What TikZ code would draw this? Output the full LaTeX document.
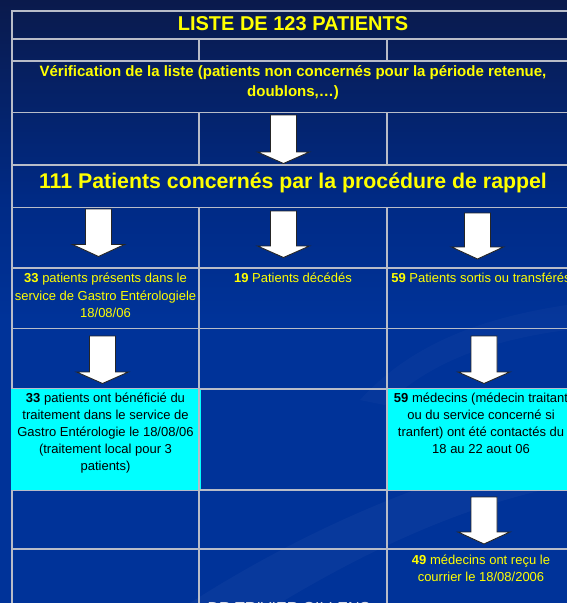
\documentclass[tikz,border=0pt]{standalone}
\usepackage{fontspec}
\setmainfont{Liberation Sans}
\definecolor{navytop}{HTML}{0A1A4C}
\definecolor{navymid}{HTML}{002A85}
\definecolor{bgblue}{HTML}{003399}
\definecolor{gridgrey}{HTML}{B8BCC8}
\definecolor{ylw}{HTML}{FFFF00}
\definecolor{cyanc}{HTML}{00FFFF}
\definecolor{sigcol}{HTML}{D8DCE8}
\newcommand\blockarrow[4]{%
  \draw[arrowstyle] ({#1-13},#2) -- ({#1+13},#2) -- ({#1+13},#3) -- ({#1+26},#3)
    -- (#1,#4) -- ({#1-26},#3) -- ({#1-13},#3) -- cycle;}
\tikzset{
  gridline/.style={draw=gridgrey, line width=1.3pt},
  arrowstyle/.style={fill=white, draw=black!85, line width=0.9pt, line join=miter},
  bigtxt/.style={text=ylw, inner sep=0pt, anchor=north, align=center},
  smalltxt/.style={text=ylw, inner sep=0pt, anchor=north, align=center,
    font=\fontsize{13}{17.5}\selectfont},
  cyantxt/.style={text=black, inner sep=0pt, anchor=north, align=center,
    font=\fontsize{13}{17}\selectfont},
}
\begin{document}
\begin{tikzpicture}[x=1pt,y=-1pt]
\useasboundingbox (0,0) rectangle (567,603);
\clip (0,0) rectangle (567,603);
% background
\fill[bgblue] (0,0) rectangle (567,603);
\shade[top color=navytop, bottom color=navymid] (0,0) rectangle (567,200);
\shade[top color=navymid, bottom color=bgblue] (0,200) rectangle (567,320);
% faint swooshes
\fill[white, opacity=0.03] (190,603) .. controls (320,520) and (450,470) .. (567,445)
  -- (567,485) .. controls (460,505) and (360,555) .. (280,603) -- cycle;
\fill[white, opacity=0.025] (360,400) .. controls (410,345) and (480,318) .. (567,305)
  -- (567,330) .. controls (490,340) and (430,362) .. (385,405) -- cycle;
% grid: horizontal lines
\foreach \yy in {11,39,61,112.5,165,207.5,268,328.5,389,490,549}
  \draw[gridline] (11.35,\yy) -- (576,\yy);
% grid: vertical lines
\draw[gridline] (12,10.35) -- (12,604);
\foreach \xx in {199,387} {
  \draw[gridline] (\xx,39) -- (\xx,61);
  \draw[gridline] (\xx,112.5) -- (\xx,165);
  \draw[gridline] (\xx,207.5) -- (\xx,604);
}
% cyan cells
\fill[cyanc] (11,389) rectangle (200.5,490.2);
\fill[cyanc] (387,389) rectangle (577,490.2);
\draw[gridline] (199,389) rectangle (387,490);
% texts
\node[bigtxt, font=\fontsize{20}{24}\selectfont\bfseries] (title) at (293,16.7) {LISTE DE 123 PATIENTS};
\node[bigtxt, font=\fontsize{15}{20}\selectfont\bfseries] (verif) at (293,65)
  {Vérification de la liste (patients non concernés pour la période retenue,\\doublons,…)};
\node[bigtxt, font=\fontsize{21.3}{26}\selectfont\bfseries] (conc) at (293,173)
  {111 Patients concernés par la procédure de rappel};
\node[smalltxt] (pres) at (105.5,273)
  {\textbf{33} patients présents dans le\\service de Gastro Entérologiele\\18/08/06};
\node[smalltxt] (dec) at (293,273) {\textbf{19} Patients décédés};
\node[smalltxt] (sort) at (481,273) {\textbf{59} Patients sortis ou transférés};
\node[cyantxt] (trait) at (105.5,393)
  {\textbf{33} patients ont bénéficié du\\traitement dans le service de\\Gastro Entérologie le 18/08/06\\(traitement local pour 3\\patients)};
\node[cyantxt] (med) at (481,393)
  {\textbf{59} médecins (médecin traitant\\ou du service concerné si\\tranfert) ont été contactés du\\18 au 22 aout 06};
\node[smalltxt, font=\fontsize{13}{17}\selectfont] (cour) at (481,555)
  {\textbf{49} médecins ont reçu le\\courrier le 18/08/2006};
\node[text=sigcol, inner sep=0pt, anchor=base, font=\fontsize{16}{18}\selectfont] (sig) at (289,613.5)
  {DR TRIVIER GILLENS};
% block arrows
\blockarrow{283.5}{115}{152}{163.5}
\blockarrow{98.5}{209}{244.5}{256.5}
\blockarrow{283.5}{211}{246}{257.5}
\blockarrow{477.5}{213}{247}{259}
\blockarrow{102.5}{336}{372}{383.5}
\blockarrow{484}{336}{372}{383.5}
\blockarrow{484}{497}{532}{544}
\end{tikzpicture}
\end{document}
